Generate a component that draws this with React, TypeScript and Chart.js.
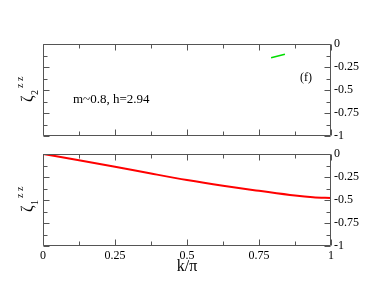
import { useEffect, useRef } from "react";
import { Chart, registerables } from "chart.js";

Chart.register(...registerables);

// k/π values and the correlation values
const kTickValues = [0, 0.25, 0.5, 0.75, 1];
const zetaTickValues = [0, -0.25, -0.5, -0.75, -1];

const topK = [0.792, 0.84];
const topZeta = [-0.149, -0.112];

const bottomK = [0, 0.125, 0.25, 0.375, 0.5, 0.625, 0.75, 0.875, 0.9375, 1];
const bottomZeta = [0, -0.068, -0.138, -0.212, -0.283, -0.345, -0.4, -0.452, -0.47, -0.478];

const topNote = "m~0.8, h=2.94";
const topTag = "(f)";
const xTitle = "k/π";

const SERIF = "'Liberation Serif', 'DejaVu Serif', serif";
const FRAME = "#555555";

const framePlugin = {
  id: "frameTicks",
  afterDraw(chart: any) {
    const { ctx, chartArea, scales } = chart;
    const { left, right, top, bottom } = chartArea;
    const xs = scales.x;
    const ys = scales.y;
    ctx.save();
    ctx.strokeStyle = FRAME;
    ctx.lineWidth = 1;
    const L = Math.round(left) + 0.5;
    const R = Math.round(right) - 0.5;
    const T = Math.round(top) + 0.5;
    const B = Math.round(bottom) - 0.5;
    ctx.beginPath();
    ctx.rect(L, T, R - L, B - T);
    ctx.stroke();
    ctx.beginPath();
    for (let i = 0; i <= 8; i++) {
      const v = i * 0.125;
      const len = i % 2 === 0 ? 6 : 4;
      const px = Math.round(xs.getPixelForValue(v)) + 0.5;
      ctx.moveTo(px, B);
      ctx.lineTo(px, B - len);
      ctx.moveTo(px, T);
      ctx.lineTo(px, T + len);
      const vy = -v;
      const py = Math.round(ys.getPixelForValue(vy)) + 0.5;
      ctx.moveTo(L, py);
      ctx.lineTo(L + len, py);
      ctx.moveTo(R, py);
      ctx.lineTo(R - len, py);
    }
    ctx.stroke();

    const o = chart.options.plugins.frameTicks || {};
    ctx.fillStyle = "#000";
    // rotated ζ label
    if (o.sub) {
      ctx.save();
      ctx.translate(32, o.zetaY);
      ctx.rotate(-Math.PI / 2);
      ctx.textBaseline = "alphabetic";
      ctx.textAlign = "left";
      ctx.font = `16px ${SERIF}`;
      ctx.fillText("ζ", 0, 0);
      ctx.font = `10px ${SERIF}`;
      ctx.fillText(o.sub, 7, 6);
      ctx.fillText("z z", 14, -9);
      ctx.restore();
    }
    if (o.texts) {
      for (const t of o.texts) {
        ctx.font = `${t.size}px ${SERIF}`;
        ctx.textAlign = t.align || "left";
        ctx.textBaseline = "alphabetic";
        ctx.fillText(t.text, t.x, t.y);
      }
    }
    ctx.restore();
  },
};

const fmt = (v: any) => `${Math.round(Number(v) * 100) / 100}`;

function makeConfig(kVals: number[], zVals: number[], color: string, width: number, isBottom: boolean, extra: any) {
  return {
    type: "line",
    data: {
      datasets: [
        {
          data: kVals.map((k, i) => ({ x: k, y: zVals[i] })),
          borderColor: color,
          borderWidth: width,
          pointRadius: 0,
          fill: false,
          cubicInterpolationMode: "monotone",
        },
      ],
    },
    options: {
      responsive: false,
      animation: false,
      events: [],
      layout: {
        padding: isBottom
          ? { left: 43, top: 14, right: 0, bottom: 0 }
          : { left: 43, top: 44, right: 0, bottom: 4 },
      },
      plugins: {
        legend: { display: false },
        tooltip: { enabled: false },
        frameTicks: extra,
      },
      scales: {
        x: {
          type: "linear",
          min: 0,
          max: 1,
          display: isBottom,
          afterFit: (s: any) => {
            s.height = isBottom ? 43 : 0;
            s.paddingLeft = 0;
            s.paddingRight = 0;
          },
          afterBuildTicks: (s: any) => {
            s.ticks = kTickValues.map((v) => ({ value: v }));
          },
          grid: { display: false, drawTicks: false },
          border: { display: false },
          ticks: {
            padding: 3,
            color: "#000",
            font: { family: SERIF, size: 12 },
            maxRotation: 0,
            callback: fmt,
          },
        },
        y: {
          type: "linear",
          position: "right",
          min: -1,
          max: 0,
          afterFit: (s: any) => {
            s.width = 43;
            s.paddingTop = 0;
            s.paddingBottom = 0;
          },
          afterBuildTicks: (s: any) => {
            s.ticks = zetaTickValues.map((v) => ({ value: v }));
          },
          grid: { display: false, drawTicks: false },
          border: { display: false },
          ticks: {
            padding: 3,
            color: "#000",
            font: { family: SERIF, size: 12 },
            callback: fmt,
          },
        },
      },
    },
    plugins: [framePlugin],
  };
}

export default function App() {
  const topRef = useRef<HTMLCanvasElement>(null);
  const botRef = useRef<HTMLCanvasElement>(null);

  useEffect(() => {
    document.body.style.margin = "0";
    const top = new Chart(
      topRef.current as HTMLCanvasElement,
      makeConfig(topK, topZeta, "#00dd00", 1.5, false, {
        sub: "2",
        zetaY: 102,
        texts: [
          { text: topNote, x: 73, y: 103, size: 13 },
          { text: topTag, x: 300, y: 81, size: 12 },
        ],
      }) as any
    );
    const bot = new Chart(
      botRef.current as HTMLCanvasElement,
      makeConfig(bottomK, bottomZeta, "#ff0000", 2, true, {
        sub: "1",
        zetaY: 72,
        texts: [{ text: xTitle, x: 187, y: 131, size: 16, align: "center" }],
      }) as any
    );
    return () => {
      top.destroy();
      bot.destroy();
    };
  }, []);

  return (
    <div style={{ position: "absolute", left: 0, top: 0, width: 374, height: 289, background: "#fff" }}>
      <canvas ref={topRef} width={374} height={140} style={{ position: "absolute", left: 0, top: 0, display: "block" }} />
      <canvas ref={botRef} width={374} height={149} style={{ position: "absolute", left: 0, top: 140, display: "block" }} />
    </div>
  );
}
